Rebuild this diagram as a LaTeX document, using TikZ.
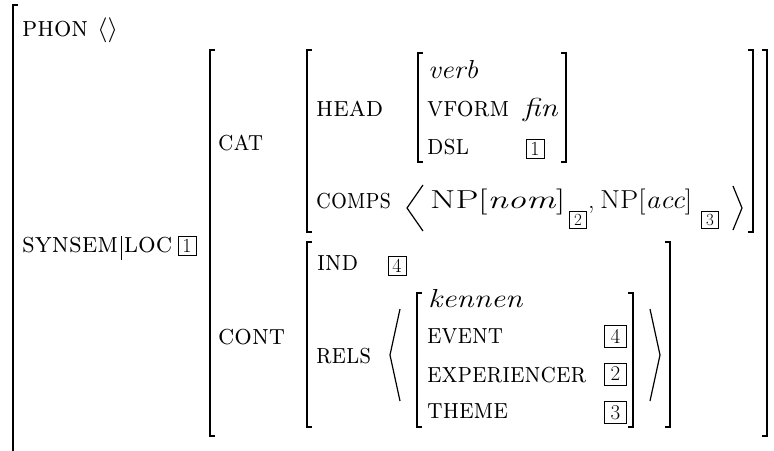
\documentclass[tikz,border=0pt]{standalone}
\usepackage{fontspec}
\usepackage{graphicx}
\newcommand\fw[2]{\resizebox{#1pt}{\height}{#2}}
\begin{document}
\begin{tikzpicture}[x=1pt,y=-1pt,
  brk/.style={line width=1.3pt},
  ang/.style={line width=1.2pt},
  lbl/.style={anchor=base west,inner sep=0pt,font=\fontsize{26}{30}\selectfont},
  sc/.style={anchor=base west,inner sep=0pt,font=\fontsize{29}{33}\selectfont\scshape},
  tagbox/.style={draw,line width=0.7pt,inner sep=0pt,minimum width=18pt,minimum height=19pt,font=\fontsize{20}{22}\selectfont},
  subbox/.style={draw,line width=0.7pt,inner sep=0pt,minimum width=17pt,minimum height=17pt,font=\fontsize{17}{19}\selectfont},
  relbox/.style={draw,line width=0.7pt,inner sep=0pt,minimum width=22pt,minimum height=22pt,font=\fontsize{21}{23}\selectfont}]
\useasboundingbox (0,0) rectangle (774,450);
\clip (0,0) rectangle (774,450);
% outer matrix (cropped)
\draw[brk] (18,5) -- (13,5) -- (13,455);
% SYNSEM|LOC value
\draw[brk] (215,50) -- (210,50) -- (210,436) -- (215,436);
\draw[brk] (762,50) -- (767,50) -- (767,436) -- (762,436);
% CAT value
\draw[brk] (312,50) -- (307,50) -- (307,232) -- (312,232);
\draw[brk] (748,50) -- (753,50) -- (753,232) -- (748,232);
% HEAD value
\draw[brk] (423,53) -- (418,53) -- (418,162) -- (423,162);
\draw[brk] (561,53) -- (566,53) -- (566,162) -- (561,162);
% CONT value
\draw[brk] (312,242) -- (307,242) -- (307,427) -- (312,427);
\draw[brk] (665,242) -- (670,242) -- (670,427) -- (665,427);
% RELS element
\draw[brk] (422,293) -- (417,293) -- (417,427) -- (422,427);
\draw[brk] (628,293) -- (633,293) -- (633,427) -- (628,427);

\node[sc] (phon) at (22,36) {\fw{66}{phon}};
\node[lbl] (phonval) at (97,36) {\fw{21}{$\langle\rangle$}};
\node[sc] (synsem) at (22,252) {\fw{150}{synsem\hspace{3pt}\rule[-8pt]{1pt}{24pt}\hspace{2pt}loc}};
\node[tagbox] (t1) at (187,246) {1};

\node[sc] (cat) at (218,150) {\fw{45}{cat}};
\node[sc] (cont) at (218,344) {\fw{67}{cont}};

\node[sc] (head) at (316,116) {\fw{67}{head}};
\node[lbl] (verb) at (428,78) {\fw{50}{\textit{verb}}};
\node[sc] (vform) at (427,116) {\fw{82}{vform}};
\node[lbl] (fin) at (523,116) {\fw{35}{\textit{fin}}};
\node[sc] (dsl) at (427,154) {\fw{42}{dsl}};
\node[tagbox] (t1b) at (535,149) {1};

\node[sc] (comps) at (316,208) {\fw{75}{comps}};
\draw[ang] (423,185) -- (407,208) -- (423,231);
\node[lbl] (np1) at (430,208) {\fw{135}{NP[\textit{nom}]}};
\node[subbox] (t2) at (578,220) {2};
\node[lbl] (comma) at (588,208) {,};
\node[lbl] (np2) at (600,208) {\fw{92}{NP[\textit{acc}]}};
\node[subbox] (t3) at (710,220) {3};
\draw[ang] (733,186) -- (742,208) -- (733,230);

\node[sc] (ind) at (317,270) {\fw{41}{ind}};
\node[tagbox] (t4) at (397,266) {4};

\node[sc] (rels) at (316,363) {\fw{55}{rels}};
\draw[ang] (400,309) -- (390,355) -- (400,401);
\node[lbl] (kennen) at (428,307) {\fw{95}{\textit{kennen}}};
\node[sc] (event) at (427,343) {\fw{76}{event}};
\node[relbox] (t4b) at (615.5,336.5) {4};
\node[sc] (exper) at (427,382) {\fw{159}{experiencer}};
\node[relbox] (t2b) at (615.5,374) {2};
\node[sc] (theme) at (427,418) {\fw{81}{theme}};
\node[relbox] (t3b) at (615.5,412.5) {3};
\draw[ang] (650,309) -- (660,355) -- (650,401);
\end{tikzpicture}
\end{document}
